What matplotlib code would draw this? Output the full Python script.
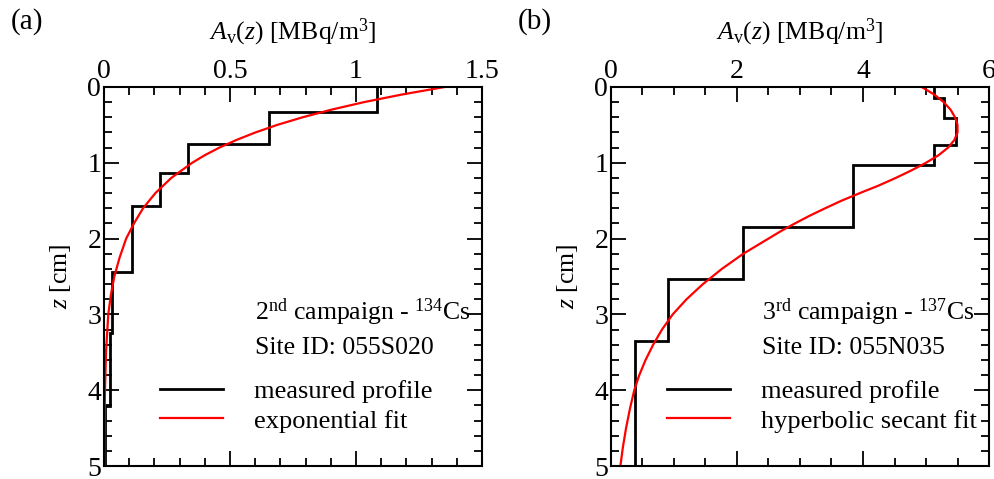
import matplotlib
matplotlib.use("Agg")
import matplotlib.pyplot as plt
from matplotlib.ticker import MultipleLocator

plt.rcParams['font.family'] = ['Liberation Serif', 'DejaVu Serif']
plt.rcParams['mathtext.fontset'] = 'custom'
plt.rcParams['mathtext.rm'] = 'Liberation Serif'
plt.rcParams['mathtext.it'] = 'Liberation Serif:italic'
plt.rcParams['font.size'] = 18

# (a) 2nd campaign, 134Cs, site 055S020
a_edges = [0, 0.326, 0.752, 1.14, 1.57, 2.445, 3.25, 4.21, 5.0]
a_meas = [1.083, 0.655, 0.335, 0.222, 0.11, 0.032, 0.025, 0.004]
a_fit_z = [0, 0.1, 0.2, 0.3, 0.4, 0.5, 0.6, 0.7, 0.8, 0.9, 1.0, 1.2, 1.4, 1.6,
           1.8, 2.0, 2.25, 2.5, 2.75, 3.0, 3.5, 4.0, 4.5, 5.0]
a_fit_v = [1.353, 1.182, 1.032, 0.902, 0.788, 0.688, 0.601, 0.525, 0.458,
           0.400, 0.350, 0.267, 0.204, 0.155, 0.119, 0.088, 0.062, 0.041,
           0.027, 0.017, 0.008, 0.004, 0.002, 0.001]

# (b) 3rd campaign, 137Cs, site 055N035
b_edges = [0, 0.141, 0.405, 0.765, 1.03, 1.843, 2.533, 3.355, 5.0]
b_meas = [5.12, 5.28, 5.47, 5.12, 3.846, 2.09, 0.91, 0.38]
b_fit_z = [0, 0.1, 0.2, 0.3, 0.4, 0.5, 0.6, 0.7, 0.8, 0.9, 1.0, 1.1, 1.2,
           1.3, 1.4, 1.5, 1.6, 1.7, 1.8, 1.9, 2.0, 2.2, 2.4, 2.6, 2.8, 3.0,
           3.2, 3.4, 3.6, 3.8, 4.0, 4.25, 4.5, 4.75, 5.0]
b_fit_v = [4.93, 5.13, 5.28, 5.39, 5.46, 5.50, 5.50, 5.45, 5.35, 5.20, 5.00,
           4.77, 4.52, 4.25, 3.95, 3.66, 3.40, 3.15, 2.92, 2.70, 2.50, 2.10,
           1.76, 1.46, 1.20, 0.98, 0.81, 0.67, 0.55, 0.45, 0.37, 0.30, 0.24,
           0.19, 0.15]

panels = [
    dict(edges=a_edges, meas=a_meas, fz=a_fit_z, fv=a_fit_v, xmax=1.5,
         minor=0.1, xticks=[0, 0.5, 1, 1.5], xtl=['0', '0.5', '1', '1.5'],
         tag='(a)', line1=r'2$^{\mathrm{nd}}$ campaign - $^{134}$Cs',
         line2='Site ID: 055S020', fitlab='exponential fit'),
    dict(edges=b_edges, meas=b_meas, fz=b_fit_z, fv=b_fit_v, xmax=6,
         minor=0.5, xticks=[0, 2, 4, 6], xtl=['0', '2', '4', '6'],
         tag='(b)', line1=r'3$^{\mathrm{rd}}$ campaign - $^{137}$Cs',
         line2='Site ID: 055N035', fitlab='hyperbolic secant fit'),
]

fig = plt.figure(figsize=(9.95, 4.79), dpi=100)
lefts = [0.1045, 0.614]

for p, left in zip(panels, lefts):
    ax = fig.add_axes([left, 0.027, 0.38, 0.7915])
    ax.stairs(p['meas'], p['edges'], orientation='horizontal', baseline=None,
              color='black', lw=2.0, label='measured profile')
    ax.plot(p['fv'], p['fz'], color='red', lw=1.6, label=p['fitlab'])
    ax.set_xlim(0, p['xmax'])
    ax.set_ylim(5, 0)
    ax.xaxis.set_label_position('top')
    ax.xaxis.tick_top()
    ax.set_xticks(p['xticks'])
    ax.set_xticklabels(p['xtl'])
    ax.xaxis.set_minor_locator(MultipleLocator(p['minor']))
    ax.yaxis.set_major_locator(MultipleLocator(1))
    ax.yaxis.set_minor_locator(MultipleLocator(0.2))
    ax.tick_params(which='both', direction='in', top=True, bottom=True,
                   left=True, right=True, labeltop=True, labelbottom=False,
                   width=1.3, labelsize=20, pad=2)
    ax.tick_params(which='major', length=11)
    ax.tick_params(which='minor', length=6)
    for s in ax.spines.values():
        s.set_linewidth(1.5)
    ax.set_xlabel(r'$A_{\mathrm{v}}(z)$ [MBq/m$^3$]', fontsize=18.5, labelpad=14)
    ax.set_ylabel(r'$z$ [cm]', fontsize=18.5, labelpad=10)
    ax.text(0.40, 0.405, p['line1'], transform=ax.transAxes, fontsize=18.5,
            va='center', ha='left')
    ax.text(0.40, 0.312, p['line2'], transform=ax.transAxes, fontsize=18.5,
            va='center', ha='left')
    ax.legend(loc='upper left', bbox_to_anchor=(0.12, 0.255), frameon=False,
              handlelength=2.4, handletextpad=1.15, labelspacing=0.22,
              fontsize=19, borderaxespad=0)
    fig.text(left - 0.094, 0.955, p['tag'], fontsize=21, va='center', ha='left')

fig.savefig('out.png', dpi=100)
